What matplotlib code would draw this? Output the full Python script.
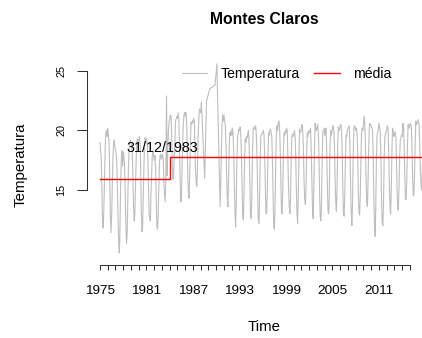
import numpy as np
import matplotlib
matplotlib.use("Agg")
import matplotlib.pyplot as plt

plt.rcParams['font.family'] = ['Liberation Sans', 'DejaVu Sans']

# Monthly temperature (Jan..Dec) per year; None = month without record
temp_1975_1983 = [
    [19.0, 18.2, 17.5, 15.0, 12.0, 11.8, 13.5, 16.0, 18.5, 19.8, 20.0, 19.5],
    [20.2, 19.6, 19.0, 16.5, 13.0, 11.4, 12.8, 15.5, 17.8, 18.8, 19.2, 18.6],
    [18.4, 18.0, 17.2, 15.0, 12.5, 10.5, 9.7, 12.0, 15.5, 17.5, 18.3, 17.0],
    [18.2, 17.8, 17.0, 14.8, 12.2, 10.5, 11.2, 13.8, 16.8, 18.5, 19.0, 19.2],
    [19.0, 18.6, 18.2, 16.0, 13.5, 12.4, 13.0, 15.5, 17.5, 19.0, 19.3, 19.1],
    [19.2, 19.5, 19.0, 16.8, 13.2, 11.5, 12.0, 14.5, 17.0, 18.8, 19.4, 19.0],
    [19.3, 18.8, 18.0, 15.5, 13.0, 12.6, 12.4, 14.8, 16.5, 18.0, 18.2, 17.9],
    [17.5, 17.9, 17.0, 14.5, 12.0, 11.7, 12.8, 15.0, 17.2, 17.9, 18.0, 17.6],
    [17.8, 18.0, 17.5, 15.3, 14.7, 14.0, 16.0, 22.9, 16.2, 18.5, 20.0, 20.8],
]
temp_1984_1990 = [
    [21.0, 21.3, 21.2, 19.5, 17.0, 15.9, 16.2, 17.8, 19.5, 20.8, 21.0, 21.2],
    [21.0, 21.5, 21.0, 19.0, 16.0, 14.0, 14.2, 16.5, 19.0, 20.5, 21.3, 21.5],
    [21.2, 21.5, 21.0, 18.5, 16.0, 14.7, 14.3, 16.8, 19.0, 20.7, 20.5, 20.8],
    [20.7, 21.0, 20.8, 18.8, 16.5, 15.6, 15.3, 17.0, 19.5, 21.0, 21.8, 21.6],
    [21.5, 22.4, None, None, None, None, 16.0, None, None, 22.5, None, None],
    [None, None, 23.5, None, None, None, None, None, None, None, 23.8, None],
    [None, 25.6, 23.0, None, None, None, 13.6, 15.5, 18.5, 20.5, 21.3, 20.8],
]
temp_1991_2000 = [
    [21.3, 20.8, 20.5, 19.0, 16.5, 14.5, 13.6, 15.8, 18.5, 19.8, 19.6, 20.0],
    [19.6, 20.2, 19.8, 18.2, 15.5, 13.0, 11.9, 14.0, 17.5, 19.5, 19.7, 20.1],
    [20.0, 20.3, 19.6, 18.0, 15.2, 12.8, 12.5, 14.5, 17.8, 19.3, 19.0, 19.5],
    [19.4, 19.8, 20.0, 18.5, 15.8, 13.0, 12.6, 14.2, 17.6, 20.0, 20.3, 20.2],
    [20.1, 20.4, 19.7, 18.0, 15.0, 12.5, 12.2, 14.0, 17.5, 19.5, 19.6, 19.8],
    [19.8, 20.0, 19.6, 17.8, 15.2, 13.0, 13.0, 14.8, 17.8, 19.8, 19.6, 20.0],
    [20.1, 19.8, 19.5, 17.5, 14.5, 12.0, 11.7, 13.5, 17.0, 19.6, 20.4, 20.0],
    [20.6, 20.8, 20.3, 18.6, 15.8, 13.2, 13.0, 15.0, 18.2, 19.8, 19.6, 20.0],
    [19.8, 20.2, 19.9, 17.6, 15.0, 13.6, 13.0, 14.2, 17.5, 19.4, 19.7, 19.5],
    [19.7, 20.0, 19.6, 18.0, 15.2, 13.0, 12.2, 14.5, 17.6, 20.1, 19.8, 19.9],
]
temp_2001_2010 = [
    [20.3, 20.5, 20.0, 18.4, 15.6, 14.2, 13.8, 15.2, 18.0, 19.8, 19.5, 19.9],
    [20.0, 19.8, 20.2, 18.5, 15.8, 13.5, 12.6, 14.8, 18.0, 20.6, 20.2, 20.0],
    [20.3, 20.5, 19.8, 18.0, 14.8, 12.8, 12.4, 14.0, 17.5, 19.8, 20.0, 20.2],
    [19.6, 20.0, 20.2, 18.4, 15.5, 13.3, 13.0, 14.5, 18.2, 20.0, 19.6, 19.8],
    [20.2, 20.4, 20.0, 18.8, 16.0, 14.0, 13.2, 15.0, 18.5, 20.3, 20.0, 20.1],
    [20.4, 20.5, 20.1, 18.2, 15.0, 13.0, 12.8, 14.4, 17.6, 19.6, 19.5, 20.0],
    [20.2, 20.3, 20.4, 18.5, 15.4, 13.2, 12.0, 13.8, 17.8, 20.1, 20.4, 20.3],
    [20.0, 20.2, 19.8, 18.0, 14.8, 13.2, 12.9, 14.6, 17.5, 19.8, 20.2, 20.0],
    [20.5, 21.2, 20.6, 18.6, 16.0, 14.0, 13.6, 15.5, 18.4, 20.2, 20.6, 20.4],
    [20.4, 20.2, 20.0, 18.0, 14.5, 11.9, 11.1, 13.5, 17.5, 19.6, 19.8, 20.2],
]
temp_2011_2016 = [
    [20.6, 20.3, 19.8, 17.5, 14.0, 12.3, 12.0, 14.0, 17.6, 19.5, 19.7, 19.9],
    [20.1, 20.4, 20.2, 18.3, 15.5, 13.6, 13.0, 15.0, 18.2, 20.2, 20.0, 19.5],
    [19.6, 19.9, 19.5, 17.6, 15.0, 13.3, 13.4, 15.2, 17.8, 19.2, 19.4, 19.6],
    [19.5, 20.6, 20.3, 18.6, 16.0, 14.2, 14.2, 15.8, 18.5, 20.5, 20.4, 20.2],
    [20.6, 20.5, 20.4, 18.8, 16.2, 14.5, 14.6, 16.2, 19.0, 20.8, 20.5, 20.6],
    [20.7, 20.9, 20.5, 19.0, 16.8, 15.5, 15.0, 16.5, 19.2, 20.6, 20.4, 20.5],
]
ano_inicial = 1975

# Mean level before and after the break on 31/12/1983
quebra = 1984.0
media_antes = 15.96
media_depois = 17.81
rotulo_quebra = "31/12/1983"

# x axis: yearly ticks, labels every 6 years
anos_ticks = list(range(1975, 2016))
anos_rotulos = [1975, 1981, 1987, 1993, 1999, 2005, 2011]
y_ticks = [15, 20, 25]

# ---- assemble the monthly series ----
linhas = temp_1975_1983 + temp_1984_1990 + temp_1991_2000 + temp_2001_2010 + temp_2011_2016
valores = np.array([np.nan if v is None else v for linha in linhas for v in linha], dtype=float)
tempo = ano_inicial + np.arange(len(valores)) / 12.0
ok = ~np.isnan(valores)
tempo_ok, valores_ok = tempo[ok], valores[ok]
fim = tempo[-1]

W, H = 422, 338
fig = plt.figure(figsize=(W / 100, H / 100), dpi=100)

# plot region in pixels (left, top, right, bottom); right edge lies past the canvas
L, T, R, B = 87, 58.7, 441, 265
ax = fig.add_axes([L / W, 1 - B / H, (R - L) / W, (B - T) / H])

px_per_year = 7.75
x0 = 1975 - (100 - L) / px_per_year
x1 = 1975 + (R - 100) / px_per_year
ax.set_xlim(x0, x1)
px_per_deg = 11.9
y_bot = 15 - (B - 190) / px_per_deg
y_top = 15 + (190 - T) / px_per_deg
ax.set_ylim(y_bot, y_top)

ax.plot(tempo_ok, valores_ok, color='#BEBEBE', lw=0.8, label='Temperatura')
ax.plot([ano_inicial, quebra, quebra, fim], [media_antes, media_antes, media_depois, media_depois],
        color='#FF0000', lw=1.0, label='média')
ax.text(1983.0, 18.5, rotulo_quebra, ha='center', va='center', fontsize=10.3, color='black')

for s in ['top', 'right']:
    ax.spines[s].set_visible(False)
ax.spines['left'].set_bounds(y_ticks[0], y_ticks[-1])
ax.spines['bottom'].set_bounds(anos_ticks[0], anos_ticks[-1])
for s in ['left', 'bottom']:
    ax.spines[s].set_linewidth(0.75)
    ax.spines[s].set_color('#333333')

ax.set_xticks(anos_ticks)
ax.set_xticklabels([str(a) if a in anos_rotulos else '' for a in anos_ticks], fontsize=9.7)
ax.tick_params(axis='x', direction='out', length=3.6, width=0.75, color='#333333', pad=11)
ax.set_yticks(y_ticks)
ax.set_yticklabels([str(v) for v in y_ticks], fontsize=7.8, rotation=90, va='center')
ax.tick_params(axis='y', direction='out', length=7.2, width=0.75, color='#333333', pad=7.8)

fig.text(264 / W, 1 - 19 / H, 'Montes Claros', ha='center', va='center', fontsize=11.3, fontweight='bold')
fig.text(264 / W, 1 - 327 / H, 'Time', ha='center', va='center', fontsize=10.8)
fig.text(21 / W, 1 - 165 / H, 'Temperatura', ha='center', va='center', rotation=90, fontsize=10.8)

leg = fig.legend(loc='center left', bbox_to_anchor=(182 / W, 1 - 74 / H), ncol=2, frameon=False,
                 fontsize=10.1, handlelength=1.79, handletextpad=0.93, columnspacing=1.07,
                 borderpad=0, borderaxespad=0)

fig.savefig('out.png', dpi=100)
